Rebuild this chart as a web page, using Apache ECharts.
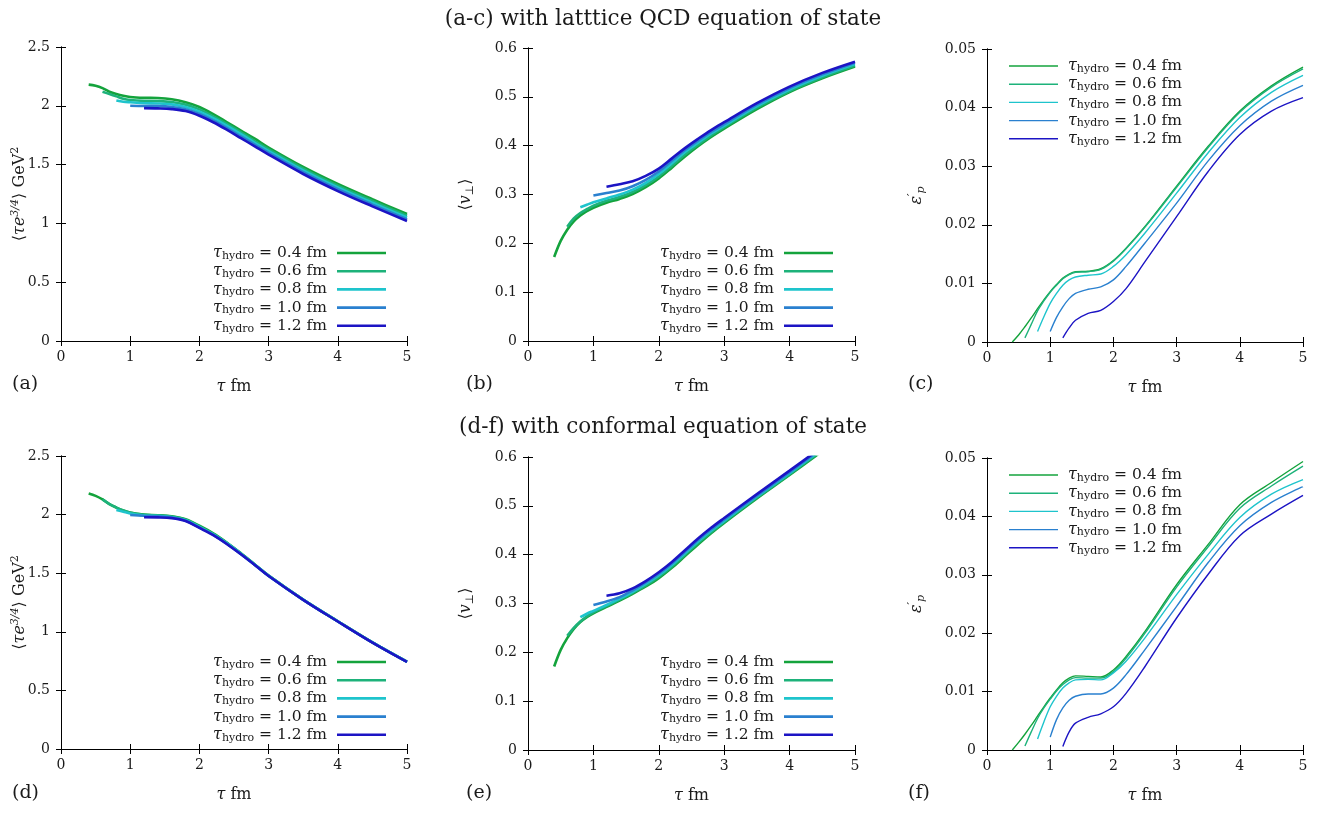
<!DOCTYPE html>
<html><head><meta charset="utf-8">
<script src="https://cdn.jsdelivr.net/npm/echarts@6/dist/echarts.min.js"></script>
<style>html,body{margin:0;padding:0;background:#fff}#c{width:1341px;height:815px}</style>
</head><body><div id="c"></div>
<script>
// ---------- data ----------
const tauHydro = [0.4, 0.6, 0.8, 1.0, 1.2];
const xTicks = [0, 1, 2, 3, 4, 5];
// tau grid for panels a, b, d, e
const tauA = [0.4,0.5,0.6,0.7,0.8,0.9,1.0,1.2,1.4,1.6,1.8,2.0,2.2,2.4,2.6,2.8,3.0,3.5,4.0,4.5,5.0];
// tau grid for panels c, f
const tauC = [0.4,0.5,0.6,0.7,0.8,0.9,1.0,1.1,1.2,1.3,1.4,1.6,1.8,2.0,2.2,2.5,3.0,3.5,4.0,4.5,5.0];

// (a) <tau e^{3/4}>, lattice EoS
const a04 = [2.18,2.17,2.15,2.12,2.10,2.085,2.075,2.068,2.066,2.055,2.03,1.99,1.93,1.86,1.79,1.72,1.645,1.48,1.335,1.205,1.08];
const a06 = [2.12,2.10,2.08,2.06,2.05,2.042,2.04,2.032,2.01,1.97,1.91,1.845,1.775,1.70,1.63,1.465,1.32,1.19,1.065];
const a08 = [2.045,2.035,2.03,2.022,2.02,2.012,1.99,1.95,1.895,1.83,1.76,1.685,1.615,1.45,1.305,1.175,1.05];
const a10 = [2.0,1.998,1.997,1.99,1.97,1.93,1.875,1.81,1.74,1.67,1.60,1.435,1.29,1.16,1.035];
const a12 = [1.98,1.978,1.972,1.955,1.915,1.86,1.795,1.725,1.655,1.585,1.42,1.275,1.145,1.02];

// (b) <v_perp>, lattice EoS
const b04 = [0.172,0.205,0.228,0.245,0.257,0.266,0.273,0.283,0.291,0.301,0.315,0.333,0.355,0.378,0.399,0.418,0.435,0.475,0.51,0.538,0.562];
const b06 = [0.234,0.251,0.262,0.27,0.277,0.287,0.295,0.305,0.319,0.337,0.359,0.382,0.402,0.421,0.438,0.478,0.512,0.54,0.564];
const b08 = [0.274,0.279,0.284,0.292,0.3,0.31,0.324,0.342,0.364,0.387,0.406,0.425,0.441,0.481,0.515,0.543,0.567];
const b10 = [0.298,0.303,0.308,0.317,0.33,0.347,0.369,0.391,0.41,0.428,0.444,0.484,0.518,0.546,0.57];
const b12 = [0.316,0.321,0.327,0.338,0.353,0.374,0.395,0.414,0.432,0.448,0.487,0.521,0.549,0.572];

// (c) eps'_p, lattice EoS
const c04 = [0,0.0012,0.0026,0.0041,0.0057,0.0072,0.0086,0.0098,0.0109,0.0116,0.012,0.0121,0.0125,0.0139,0.016,0.0197,0.0266,0.0334,0.0394,0.0437,0.0469];
const c06 = [0.0007,0.003,0.0053,0.007,0.0085,0.0097,0.0108,0.0115,0.0119,0.012,0.0124,0.0138,0.0159,0.0196,0.0264,0.0332,0.0392,0.0435,0.0466];
const c08 = [0.0018,0.0043,0.0066,0.0083,0.0097,0.0106,0.0111,0.0114,0.0116,0.0129,0.0149,0.0186,0.0254,0.0323,0.0383,0.0426,0.0455];
const c10 = [0.0018,0.0042,0.006,0.0074,0.0083,0.009,0.0094,0.0106,0.0129,0.0169,0.0237,0.0309,0.0369,0.0411,0.0438];
const c12 = [0.0007,0.0024,0.0037,0.0049,0.0054,0.0069,0.0091,0.0137,0.0214,0.0291,0.0354,0.0394,0.0417];

// (d) <tau e^{3/4}>, conformal EoS
const d04 = [2.18,2.16,2.13,2.09,2.06,2.035,2.017,2.0,1.995,1.985,1.96,1.905,1.84,1.76,1.67,1.575,1.48,1.275,1.09,0.91,0.745];
const d06 = [2.13,2.09,2.06,2.035,2.015,1.998,1.993,1.983,1.957,1.9,1.835,1.757,1.668,1.574,1.479,1.275,1.09,0.91,0.745];
const d08 = [2.04,2.025,2.01,1.992,1.988,1.978,1.952,1.895,1.832,1.754,1.666,1.573,1.478,1.274,1.089,0.909,0.744];
const d10 = [1.997,1.99,1.985,1.975,1.948,1.89,1.828,1.75,1.663,1.571,1.477,1.273,1.089,0.909,0.744];
const d12 = [1.977,1.976,1.97,1.945,1.886,1.824,1.747,1.661,1.57,1.476,1.273,1.088,0.908,0.743];

// (e) <v_perp>, conformal EoS (curves leave the frame near tau = 4.3 fm)
const e04 = [0.171,0.205,0.229,0.248,0.262,0.272,0.28,0.293,0.306,0.32,0.335,0.352,0.373,0.397,0.421,0.444,0.465,0.515,0.563,0.612];
const e06 = [0.234,0.25,0.263,0.274,0.282,0.295,0.308,0.322,0.337,0.355,0.376,0.4,0.424,0.446,0.467,0.517,0.565,0.614];
const e08 = [0.272,0.279,0.285,0.297,0.31,0.324,0.34,0.358,0.379,0.403,0.427,0.449,0.469,0.519,0.567,0.616];
const e10 = [0.297,0.304,0.313,0.327,0.343,0.361,0.382,0.406,0.43,0.452,0.472,0.521,0.569,0.618];
const e12 = [0.316,0.321,0.331,0.346,0.364,0.385,0.409,0.433,0.455,0.475,0.524,0.572,0.621];

// (f) eps'_p, conformal EoS
const f04 = [0,0.0013,0.0027,0.0042,0.0058,0.0074,0.0089,0.0103,0.0115,0.0123,0.0127,0.0126,0.0125,0.0137,0.016,0.0203,0.0283,0.0352,0.042,0.0458,0.0494];
const f06 = [0.0007,0.0031,0.0054,0.0072,0.0087,0.0101,0.0112,0.012,0.0124,0.0123,0.0123,0.0134,0.0157,0.02,0.0279,0.0348,0.0414,0.0452,0.0486];
const f08 = [0.0019,0.0048,0.0074,0.0092,0.0106,0.0115,0.012,0.0121,0.012,0.0132,0.0152,0.0192,0.0266,0.0335,0.0398,0.0438,0.0463];
const f10 = [0.0022,0.0052,0.0072,0.0085,0.0092,0.0096,0.0096,0.0106,0.0129,0.0172,0.0246,0.0321,0.0384,0.0424,0.0451];
const f12 = [0.0006,0.0031,0.0046,0.0056,0.0062,0.0074,0.0097,0.0143,0.0226,0.0301,0.0367,0.0404,0.0436];

// ---------- styling ----------
const colors = ['#14a33c', '#1db27a', '#1ec4cc', '#2a80cf', '#1c14c4'];
const FONT = 'DejaVu Serif';
const INK = '#1a1a1a';

function pairs(xs, ys, t0) {
  const i0 = xs.indexOf(t0);
  return ys.map((y, i) => [xs[i0 + i], y]);
}

const richBase = {
  m:   { fontFamily: FONT, fontSize: 16, color: INK, lineHeight: 20 },
  it:  { fontFamily: FONT, fontSize: 16, fontStyle: 'italic', color: INK, lineHeight: 20 },
  sub: { fontFamily: FONT, fontSize: 11, color: INK, lineHeight: 10, verticalAlign: 'bottom' },
  subi:{ fontFamily: FONT, fontSize: 11, fontStyle: 'italic', color: INK, lineHeight: 10, verticalAlign: 'bottom' },
  sup: { fontFamily: FONT, fontSize: 11, color: INK, lineHeight: 10, verticalAlign: 'top' },
  supi:{ fontFamily: FONT, fontSize: 11, fontStyle: 'italic', color: INK, lineHeight: 10, verticalAlign: 'top' }
};
const legRich = {
  m:   { fontFamily: FONT, fontSize: 15.5, color: INK, lineHeight: 17 },
  it:  { fontFamily: FONT, fontSize: 16, fontStyle: 'italic', color: INK, lineHeight: 17 },
  sub: { fontFamily: FONT, fontSize: 11, color: INK, lineHeight: 8, verticalAlign: 'bottom' },
  g:   { width: 5, lineHeight: 17 }
};

const panels = [
  { key: 'a', grid: { left: 61, top: 47, width: 346, height: 294 }, ymin: 0, ymax: 2.5, yint: 0.5, xs: tauA,
    vals: [a04, a06, a08, a10, a12], lw: 2.6, leg: { right: 1341 - 386, top: 245 }, align: 'right',
    yname: '{m|⟨}{it|τe}{supi|3/4}{m|⟩ GeV}{sup|2}', ygap: 31, letter: '(a)' },
  { key: 'b', grid: { left: 528, top: 48, width: 327, height: 293 }, ymin: 0, ymax: 0.6, yint: 0.1, xs: tauA,
    vals: [b04, b06, b08, b10, b12], lw: 2.6, leg: { right: 1341 - 833, top: 245 }, align: 'right',
    yname: '{m|⟨}{it|v}{sub|⊥}{m|⟩}', ygap: 52, letter: '(b)' },
  { key: 'c', grid: { left: 987, top: 49, width: 316, height: 293 }, ymin: 0, ymax: 0.05, yint: 0.01, xs: tauC,
    vals: [c04, c06, c08, c10, c12], lw: 1.4, leg: { left: 1009, top: 58 }, align: 'left',
    yname: '{it|ε}{supi|′}{subi|p}', ygap: 60, letter: '(c)' },
  { key: 'd', grid: { left: 61, top: 456, width: 346, height: 293 }, ymin: 0, ymax: 2.5, yint: 0.5, xs: tauA,
    vals: [d04, d06, d08, d10, d12], lw: 2.6, leg: { right: 1341 - 386, top: 654 }, align: 'right',
    yname: '{m|⟨}{it|τe}{supi|3/4}{m|⟩ GeV}{sup|2}', ygap: 31, letter: '(d)' },
  { key: 'e', grid: { left: 528, top: 457, width: 327, height: 293 }, ymin: 0, ymax: 0.6, yint: 0.1, xs: tauA,
    vals: [e04, e06, e08, e10, e12], lw: 2.6, leg: { right: 1341 - 833, top: 654 }, align: 'right',
    yname: '{m|⟨}{it|v}{sub|⊥}{m|⟩}', ygap: 52, letter: '(e)' },
  { key: 'f', grid: { left: 987, top: 458, width: 316, height: 292 }, ymin: 0, ymax: 0.05, yint: 0.01, xs: tauC,
    vals: [f04, f06, f08, f10, f12], lw: 1.4, leg: { left: 1009, top: 467 }, align: 'left',
    yname: '{it|ε}{supi|′}{subi|p}', ygap: 60, letter: '(f)' }
];

const axisLine = { show: true, lineStyle: { color: '#000', width: 1 } };
const axisTick = { show: true, inside: true, length: 5, lineStyle: { color: '#000', width: 1 } };
const tickLabel = { fontFamily: FONT, fontSize: 14, color: INK };

const grid = [], xAxis = [], yAxis = [], series = [], legend = [], title = [];

title.push({ text: '(a-c) with latttice QCD equation of state', left: 658, textAlign: 'center', top: 3,
  textStyle: { fontFamily: FONT, fontSize: 21.5, fontWeight: 'normal', color: INK } });
title.push({ text: '(d-f) with conformal equation of state', left: 658, textAlign: 'center', top: 411,
  textStyle: { fontFamily: FONT, fontSize: 21.5, fontWeight: 'normal', color: INK } });

panels.forEach((p, k) => {
  grid.push(Object.assign({ containLabel: false }, p.grid));
  xAxis.push({
    type: 'value', gridIndex: k, position: 'bottom', min: 0, max: 5, interval: 1,
    axisLine, axisTick, splitLine: { show: false },
    axisLabel: Object.assign({ margin: 9, formatter: v => xTicks.includes(v) ? String(v) : '' }, tickLabel),
    name: '{it|τ}{m| fm}', nameLocation: 'middle', nameGap: 36, nameMoveOverlap: false,
    nameTextStyle: { rich: richBase }
  });
  xAxis.push({
    type: 'value', gridIndex: k, position: 'top', min: 0, max: 5, interval: 1,
    axisLine, axisTick, splitLine: { show: false }, axisLabel: { show: false }
  });
  yAxis.push({
    type: 'value', gridIndex: k, position: 'left', min: p.ymin, max: p.ymax, interval: p.yint,
    axisLine, axisTick, splitLine: { show: false },
    axisLabel: Object.assign({ margin: 11 }, tickLabel),
    name: p.yname, nameLocation: 'middle', nameGap: p.ygap, nameRotate: 90, nameMoveOverlap: false,
    nameTextStyle: { rich: richBase }
  });
  yAxis.push({
    type: 'value', gridIndex: k, position: 'right', min: p.ymin, max: p.ymax, interval: p.yint,
    axisLine, axisTick, splitLine: { show: false }, axisLabel: { show: false }
  });
  const names = [];
  p.vals.forEach((ys, j) => {
    const name = p.key + ':' + tauHydro[j].toFixed(1);
    names.push(name);
    series.push({
      type: 'line', name, xAxisIndex: 2 * k, yAxisIndex: 2 * k,
      data: pairs(p.xs, ys, tauHydro[j]),
      smooth: 0.35, symbol: 'none', showSymbol: false, clip: true,
      lineStyle: { color: colors[j], width: p.lw }, itemStyle: { color: colors[j] },
      animation: false, z: 2 + j
    });
  });
  const right = p.align === 'right';
  legend.push(Object.assign({
    data: names, orient: 'vertical', align: p.align, padding: 0, itemGap: 1.7,
    icon: 'rect', itemWidth: 49, itemHeight: p.lw, selectedMode: false,
    formatter: n => (right ? '' : '{g| }') + '{it|τ}{sub|hydro}{m| = ' + n.split(':')[1] + ' fm}' + (right ? '{g| }' : ''),
    textStyle: { rich: legRich }
  }, p.leg));
  const lx = { a: 7, b: 461, c: 903, d: 7, e: 461, f: 903 }[p.key];
  const ly = k < 3 ? 370 : 779;
  title.push({ text: p.letter, left: lx, top: ly,
    textStyle: { fontFamily: FONT, fontSize: 19, fontWeight: 'normal', color: INK } });
});

const chart = echarts.init(document.getElementById('c'), null, { renderer: 'canvas' });
chart.setOption({ animation: false, backgroundColor: '#fff', title, grid, xAxis, yAxis, series, legend });
</script>
</body></html>
